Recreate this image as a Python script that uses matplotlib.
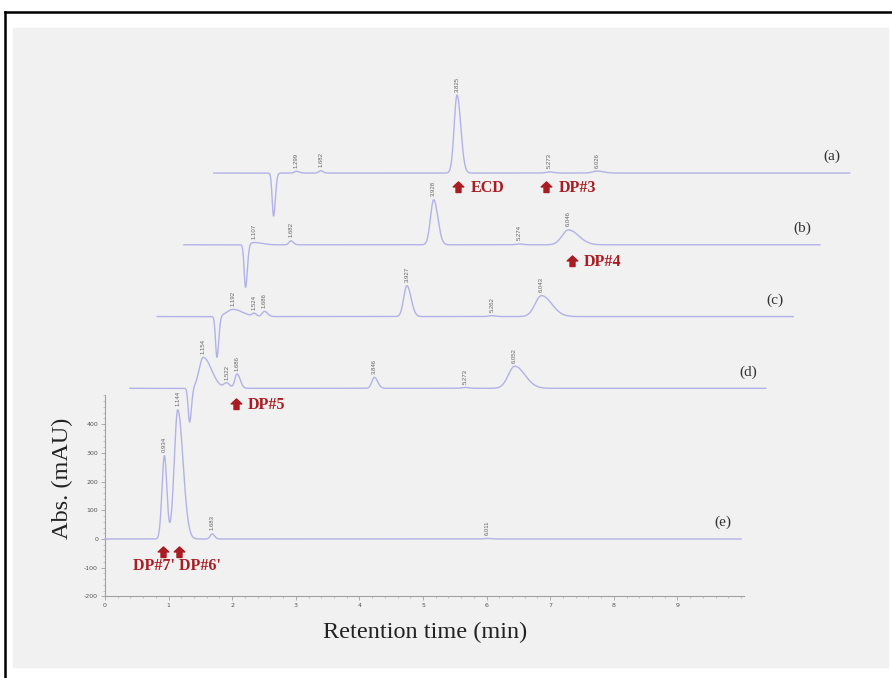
import numpy as np
import matplotlib
matplotlib.use("Agg")
import matplotlib.pyplot as plt
from matplotlib.patches import Rectangle
from matplotlib.lines import Line2D
from matplotlib.path import Path
from matplotlib.ticker import FixedLocator

plt.rcParams["axes.unicode_minus"] = False

# peak tables per chromatogram: retention time (min), height (mAU),
# left sigma (min), right/left tailing ratio
a_rt = [1.299, 1.682, 3.825, 5.273, 6.026]
a_h = [6, 8, 272, 4, 7]
a_w = [0.03, 0.03, 0.045, 0.05, 0.07]
a_tail = [1.5, 1.2, 1.3, 1.2, 1.4]
a_dip = [0.94, -150]

b_rt = [1.107, 1.682, 3.928, 5.274, 6.046]
b_h = [8, 14, 157, 3, 52]
b_w = [0.08, 0.03, 0.05, 0.05, 0.1]
b_tail = [1.5, 1.3, 1.3, 1.2, 1.6]
b_dip = [0.97, -150]

c_rt = [1.192, 1.524, 1.686, 3.927, 5.262, 6.043]
c_h = [25, 10, 18, 108, 3, 73]
c_w = [0.1, 0.03, 0.035, 0.05, 0.05, 0.1]
c_tail = [1.5, 1.2, 1.4, 1.3, 1.2, 1.6]
c_dip = [0.94, -143]

d_rt = [1.154, 1.522, 1.686, 3.846, 5.273, 6.052]
d_h = [108, 18, 50, 38, 3, 77]
d_w = [0.065, 0.04, 0.035, 0.04, 0.05, 0.1]
d_tail = [2.0, 1.2, 1.4, 1.3, 1.2, 1.6]
d_dip = [0.94, -118]

e_rt = [0.934, 1.144, 1.683, 6.011]
e_h = [290, 450, 18, 2]
e_w = [0.038, 0.055, 0.03, 0.05]
e_tail = [1.0, 1.5, 1.3, 1.2]
e_dip = None

names = ["(a)", "(b)", "(c)", "(d)", "(e)"]
x_shift = [1.71, 1.24, 0.82, 0.39, 0.0]
y_shift = [1275, 1025, 775, 525, 0]

traces = [(a_rt, a_h, a_w, a_tail, a_dip),
          (b_rt, b_h, b_w, b_tail, b_dip),
          (c_rt, c_h, c_w, c_tail, c_dip),
          (d_rt, d_h, d_w, d_tail, d_dip),
          (e_rt, e_h, e_w, e_tail, e_dip)]

# red markers for the degradation products: label, arrow x, text x, y
notes = [("ECD", 5.55, 5.75, 1223), ("DP#3", 6.94, 7.13, 1223),
         ("DP#4", 7.34, 7.53, 966), ("DP#5", 2.06, 2.24, 467)]
arrows_e = [0.912, 1.164]

line_col = "#b2b2e8"
red = "#a81c22"
serif = ["Liberation Serif", "DejaVu Serif"]

# stubby up-arrow used next to the product names
up_arrow = Path([(0, 1), (0.95, 0.1), (0.45, 0.1), (0.45, -0.9),
                 (-0.45, -0.9), (-0.45, 0.1), (-0.95, 0.1), (0, 1)],
                [Path.MOVETO] + [Path.LINETO] * 6 + [Path.CLOSEPOLY])


def peak(t, rt, h, s, tail):
    s_arr = np.where(t < rt, s, s * tail)
    return h * np.exp(-0.5 * ((t - rt) / s_arr) ** 2)


fig = plt.figure(figsize=(8.92, 6.78), dpi=100)
fig.patches.append(Rectangle((13 / 892, 1 - 667 / 678), 875 / 892, 639 / 678,
                             transform=fig.transFigure, color="#f1f1f1", zorder=-10))
fig.lines.append(Line2D([5 / 892, 1], [1 - 12 / 678, 1 - 12 / 678],
                        transform=fig.transFigure, color="black", lw=1.8))
fig.lines.append(Line2D([5 / 892, 5 / 892], [0, 1 - 12 / 678],
                        transform=fig.transFigure, color="black", lw=1.8))

ax = fig.add_axes([0, 0, 1, 1])
ax.patch.set_alpha(0)
ax.set_xlim(-105 / 63.6, 787 / 63.6)
ax.set_ylim(-139 * 3.484, 539 * 3.484)

t = np.linspace(0, 10, 4000)
for i, (rts, hs, ws, tails, dip) in enumerate(traces):
    sig = np.zeros_like(t)
    for rt, h, w, k in zip(rts, hs, ws, tails):
        sig += peak(t, rt, h, w, k)
    if dip is not None:
        sig += peak(t, dip[0], dip[1], 0.022, 1.3)
    ax.plot(t + x_shift[i], sig + y_shift[i], color=line_col, lw=1.0, zorder=3)
    for rt, h in zip(rts, hs):
        ax.text(rt + x_shift[i], y_shift[i] + max(h, 0) + 12, f"{rt:.3f}",
                rotation=90, ha="center", va="bottom", fontsize=4.3,
                color="#666666", family="Liberation Sans", zorder=4)
    ax.text(10 + x_shift[i] - 0.28, y_shift[i] + 57, names[i], ha="center",
            va="center", fontsize=11, family=serif, color="#333333")

for label, xa, xt, y in notes:
    ax.plot(xa, y + 4, marker=up_arrow, markersize=8, color=red, lw=0)
    ax.text(xt, y, label, ha="left", va="center", fontsize=11.5,
            fontweight="bold", color=red, family=serif)
ax.plot(arrows_e, [-47] * len(arrows_e), marker=up_arrow, markersize=8,
        color=red, lw=0)
ax.text(0.44, -93, "DP#7' DP#6'", ha="left", va="center", fontsize=11.5,
        fontweight="bold", color=red, family=serif)

for side in ["top", "right"]:
    ax.spines[side].set_visible(False)
ax.spines["left"].set_position(("data", 0))
ax.spines["left"].set_bounds(-200, 500)
ax.spines["bottom"].set_position(("data", -200))
ax.spines["bottom"].set_bounds(0, 10.05)
for side in ["left", "bottom"]:
    ax.spines[side].set_color("#a0a0a0")
    ax.spines[side].set_linewidth(0.8)

ax.set_xticks(range(10))
ax.set_yticks(range(-200, 500, 100))
ax.xaxis.set_minor_locator(FixedLocator(np.arange(0, 10.01, 0.2)))
ax.yaxis.set_minor_locator(FixedLocator(np.arange(-200, 501, 20)))
ax.tick_params(which="major", length=3, width=0.6, color="#a0a0a0",
               labelsize=4.5, labelcolor="#555555", pad=2)
ax.tick_params(which="minor", length=1.5, width=0.5, color="#b0b0b0")

ax.text(-0.676, 212, "Abs. (mAU)", rotation=90, ha="center", va="center",
        fontsize=17.5, family=serif, color="#222222")
ax.text(5.03, -327, "Retention time (min)", ha="center", va="center",
        fontsize=17.5, family=serif, color="#222222")

fig.savefig("out.png", dpi=100)
